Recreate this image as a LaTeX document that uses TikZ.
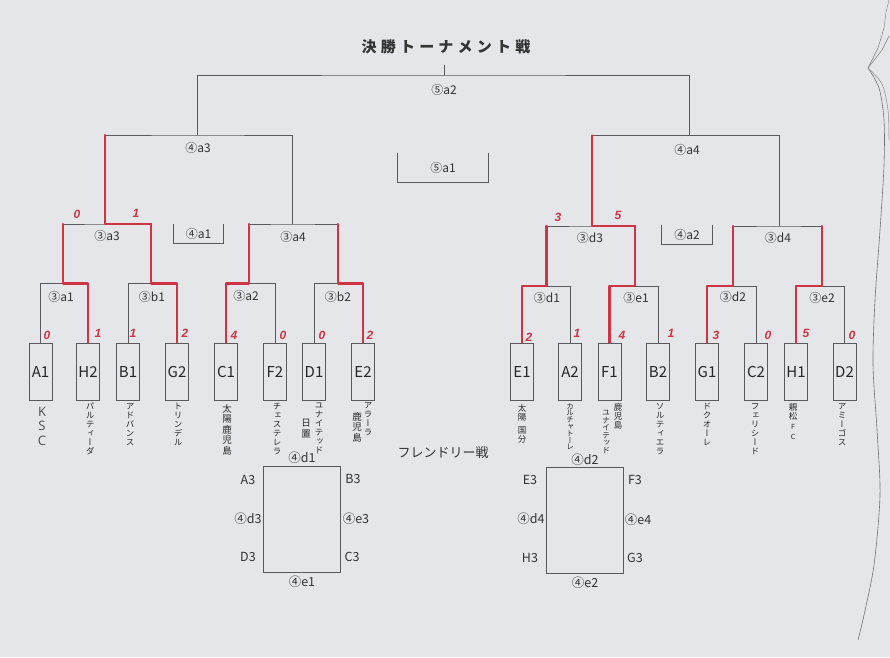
\documentclass[tikz,border=0pt]{standalone}
\usepackage{fontspec}
\setmainfont{Noto Sans CJK JP}
\newfontfamily\vfont[RawFeature=+vert]{Noto Sans CJK JP}
\newfontfamily\titlefont[LetterSpace=28]{Noto Sans CJK JP}
\newfontfamily\scfont{Liberation Sans}
\newfontfamily\latfont{Open Sans}
\definecolor{paper}{RGB}{228,230,233}
\definecolor{ink}{RGB}{90,90,94}
\definecolor{redpen}{RGB}{206,52,68}
\tikzset{
 gl/.style={draw=ink,line width=0.9pt},
 rl/.style={draw=redpen,line width=2.4pt,line cap=round,line join=round},
 team/.style={draw=ink,line width=0.9pt,minimum width=23pt,minimum height=57pt,inner sep=0pt,font=\fontsize{15}{15}\selectfont,text=black!85},
 mlab/.style={font=\fontsize{12}{12}\selectfont,text=black!80,inner sep=0pt},
 flab/.style={font=\fontsize{12.5}{12.5}\selectfont,text=black!80,inner sep=0pt},
 score/.style={font=\scfont\bfseries\itshape\fontsize{12}{12}\selectfont,text=redpen,inner sep=0pt},
 vname/.style={font=\vfont\fontsize{8.5}{9}\selectfont,align=center,anchor=north,inner sep=0pt,text=black!85},
 kname/.style={font=\vfont\fontsize{9.5}{10.5}\selectfont,align=center,anchor=north,inner sep=0pt,text=black!85},
}
\begin{document}
\begin{tikzpicture}[x=1pt,y=-1pt]
\fill[paper] (0,0) rectangle (890,657);
\useasboundingbox (0,0) rectangle (890,657);

% title
\node[font=\titlefont\bfseries\fontsize{15}{15}\selectfont,text=black!80] (title) at (446,47) {決勝トーナメント戦};

% team boxes
\foreach \n/\x in {A1/40.5,H2/88,B1/128,G2/177,C1/226,F2/275,D1/314,E2/363,
                   E1/522,A2/570,F1/609.5,B2/658,G1/707,C2/756,H1/796,D2/844.5}
  \node[team] (\n) at (\x,371.5) {\n};

% junction coordinates
\coordinate (a1) at (63,283.5);
\coordinate (b1) at (151,283.5);
\coordinate (a2) at (249,283.5);
\coordinate (b2) at (338,283.5);
\coordinate (a3) at (105,224);
\coordinate (a4) at (292,224);
\coordinate (d1) at (546.5,286);
\coordinate (e1) at (635,286);
\coordinate (d2) at (733,286);
\coordinate (e2) at (822,286);
\coordinate (d3) at (592,226);
\coordinate (d4) at (779,226);
\coordinate (q3) at (197,135);
\coordinate (q4) at (689,135.5);
\coordinate (top) at (444,75);
\coordinate (topend) at (444,65);

% grey bracket
\draw[gl] (A1.north) |- (a1) -| (H2.north);
\draw[gl] (B1.north) |- (b1) -| (G2.north);
\draw[gl] (C1.north) |- (a2) -| (F2.north);
\draw[gl] (D1.north) |- (b2) -| (E2.north);
\draw[gl] (E1.north) |- (d1) -| (A2.north);
\draw[gl] (F1.north) |- (e1) -| (B2.north);
\draw[gl] (G1.north) |- (d2) -| (C2.north);
\draw[gl] (H1.north) |- (e2) -| (D2.north);
\draw[gl] (a1) |- (a3) -| (b1);
\draw[gl] (a2) |- (a4) -| (b2);
\draw[gl] (d1) |- (d3) -| (e1);
\draw[gl] (d2) |- (d4) -| (e2);
\draw[gl] (a3) |- (q3) -| (a4);
\draw[gl] (d3) |- (q4) -| (d4);
\draw[gl] (q3) |- (top) -| (q4);
\draw[gl] (top) -- (topend);

% red winner paths
\draw[rl] (H2.north) |- (a1) -- (a1 |- a3);
\draw[rl] (G2.north) |- (b1) -- (b1 |- a3);
\draw[rl] (C1.north) |- (a2) -- (a2 |- a4);
\draw[rl] (E2.north) |- (b2) -- (b2 |- a4);
\draw[rl] (b1 |- a3) -- (a3) -- (a3 |- q3);
\draw[rl] (E1.north) |- (d1) -- (d1 |- d3);
\draw[rl] (F1.north) |- (e1) -- (e1 |- d3);
\draw[rl] (G1.north) |- (d2) -- (d2 |- d4);
\draw[rl] (H1.north) |- (e2) -- (e2 |- d4);
\draw[rl] (e1 |- d3) -- (d3) -- (d3 |- q4);

% match labels
\node[mlab] (L52) at (444,90) {⑤a2};
\node[mlab] (L43) at (198,148) {④a3};
\node[mlab] (L44) at (687,150) {④a4};
\node[mlab] (L3a3) at (107,236) {③a3};
\node[mlab] (L3a4) at (293,237) {③a4};
\node[mlab] (L3d3) at (590,238) {③d3};
\node[mlab] (L3d4) at (778,238) {③d4};
\node[mlab] (L3a1) at (61,297) {③a1};
\node[mlab] (L3b1) at (152,297) {③b1};
\node[mlab] (L3a2) at (246,296) {③a2};
\node[mlab] (L3b2) at (338,297) {③b2};
\node[mlab] (L3d1) at (547,298) {③d1};
\node[mlab] (L3e1) at (636,298) {③e1};
\node[mlab] (L3d2) at (733,297) {③d2};
\node[mlab] (L3e2) at (822,298) {③e2};

% open-top boxes
\node[mlab,minimum width=90pt,minimum height=29pt] (Q51) at (443,167.5) {⑤a1};
\draw[gl] (Q51.north west) |- (Q51.south east) -- (Q51.north east);
\node[mlab,minimum width=49pt,minimum height=19pt] (Q41) at (198.5,233.5) {④a1};
\draw[gl] (Q41.north west) |- (Q41.south east) -- (Q41.north east);
\node[mlab,minimum width=50pt,minimum height=19pt] (Q42) at (687,234.5) {④a2};
\draw[gl] (Q42.north west) |- (Q42.south east) -- (Q42.north east);

% scores
\node[score] (sA1) at (47,335) {0};
\node[score] (sH2) at (98,333) {1};
\node[score] (sB1) at (133,333) {1};
\node[score] (sG2) at (185,333) {2};
\node[score] (sC1) at (234,335) {4};
\node[score] (sF2) at (283,335) {0};
\node[score] (sD1) at (322,335) {0};
\node[score] (sE2) at (370,335) {2};
\node[score] (sa3l) at (77,214) {0};
\node[score] (sa3r) at (136,213) {1};
\node[score] (sE1) at (529,337) {2};
\node[score] (sA2) at (577,333) {1};
\node[score] (sF1) at (622,335) {4};
\node[score] (sB2) at (671,333) {1};
\node[score] (sG1) at (716,335) {3};
\node[score] (sC2) at (768,335) {0};
\node[score] (sH1) at (806,333) {5};
\node[score] (sD2) at (852,335) {0};
\node[score] (sd3l) at (558,217) {3};
\node[score] (sd3r) at (618,215) {5};

% team names (vertical, handwritten)
\node[font=\latfont\fontsize{13}{14.5}\selectfont,align=center,anchor=north,inner sep=0pt,text=black!70] (nA1) at (42,407) {K\\S\\C};
\node[vname] (nH2) at (90,403) {パ\\ル\\テ\\ィ\\ー\\ダ};
\node[vname] (nB1) at (130,403) {ア\\ド\\バ\\ン\\ス};
\node[vname] (nG2) at (178,403) {ト\\リ\\ン\\デ\\ル};
\node[kname] (nC1) at (227,404) {太\\陽\\鹿\\児\\島};
\node[vname] (nF2) at (277,403) {チ\\ェ\\ス\\テ\\レ\\ラ};
\node[vname] (nD1) at (319,403) {ユ\\ナ\\イ\\テ\\ッ\\ド};
\node[kname] (nD1b) at (306,419) {日\\置};
\node[vname] (nE2) at (368,402) {ア\\ラ\\ー\\ラ};
\node[kname] (nE2b) at (357,412) {鹿\\児\\島};
\node[kname,font=\vfont\fontsize{8.5}{9.5}\selectfont] (nE1) at (522,404) {太\\陽\\[3pt]国\\分};
\node[vname,font=\vfont\fontsize{7.5}{6.8}\selectfont] (nA2) at (570,403) {カ\\ル\\チ\\ャ\\ト\\ー\\レ};
\node[kname,font=\vfont\fontsize{8.5}{9}\selectfont] (nF1) at (618,403) {鹿\\児\\島};
\node[vname,font=\vfont\fontsize{8}{7.6}\selectfont] (nF1b) at (606,410) {ユ\\ナ\\イ\\テ\\ッ\\ド};
\node[vname] (nB2) at (660,403) {ソ\\ル\\テ\\ィ\\エ\\ラ};
\node[vname] (nG1) at (707,403) {ド\\ク\\オ\\ー\\レ};
\node[vname] (nC2) at (755,403) {フ\\ェ\\リ\\シ\\ー\\ド};
\node[vname] (nH1) at (793,403) {親\\松\\[1pt]{\fontsize{7}{8}\selectfont F}\\[1pt]{\fontsize{7}{8}\selectfont C}};
\node[vname] (nD2) at (842,403) {ア\\ミ\\ー\\ゴ\\ス};

% friendly matches
\node[font=\fontsize{13}{13}\selectfont,text=black!80,inner sep=0pt] (ftitle) at (443,453) {フレンドリー戦};
\node[draw=ink,line width=0.9pt,minimum width=77pt,minimum height=106pt,inner sep=0pt] (F1box) at (301.5,519) {};
\node[draw=ink,line width=0.9pt,minimum width=77pt,minimum height=106pt,inner sep=0pt] (F2box) at (584.5,520) {};
\node[flab] (fd1) at (302,458) {④d1};
\node[flab] (fe1) at (302,582) {④e1};
\node[flab] (fA3) at (248,480) {A3};
\node[flab] (fB3) at (353,479) {B3};
\node[flab] (fd3) at (248,519) {④d3};
\node[flab] (fe3) at (356,519) {④e3};
\node[flab] (fD3) at (248,557) {D3};
\node[flab] (fC3) at (352,557) {C3};
\node[flab] (fd2) at (585,460) {④d2};
\node[flab] (fe2) at (585,583) {④e2};
\node[flab] (fE3) at (530,480) {E3};
\node[flab] (fF3) at (635,480) {F3};
\node[flab] (fd4) at (531,519) {④d4};
\node[flab] (fe4) at (638,520) {④e4};
\node[flab] (fH3) at (530,558) {H3};
\node[flab] (fG3) at (635,558) {G3};

% page curl on the right edge
\draw[ink!85,line width=0.6pt] plot[smooth] coordinates {(868,68) (879,88) (884,120) (884,165) (880,230) (875,300) (873,365) (877,430) (880,495) (874,565) (864,615) (858,640)};
\draw[ink!70,line width=0.5pt] plot[smooth] coordinates {(868,68) (882,84) (888,110) (889,140)};
\draw[ink!80,line width=0.5pt] (868,68) -- (878,48) -- (884,28);
\draw[ink!80,line width=0.5pt] (868,68) -- (882,50) -- (889,36);
\draw[ink!70,line width=0.5pt] (884,28) -- (886,12) -- (889,0);
\end{tikzpicture}
\end{document}
